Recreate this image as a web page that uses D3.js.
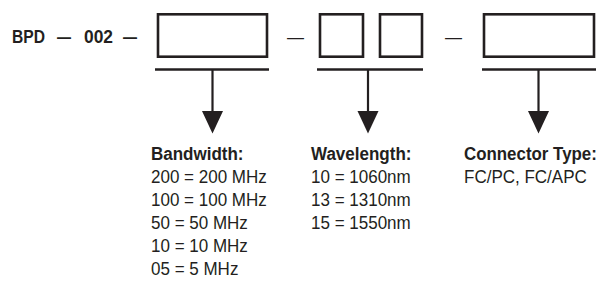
<!DOCTYPE html>
<html>
<head>
<meta charset="utf-8">
<script src="https://cdn.jsdelivr.net/npm/d3@7"></script>
<style>
  body { margin: 0; background: #fff; }
  svg text { font-family: "Liberation Sans", Arial, sans-serif; fill: #231f20; }
</style>
</head>
<body>
<div id="chart"></div>
<script>
// part number prefix and the separators
const prefixParts = ["BPD", "\u2014", "002", "\u2014"];
const separators = ["\u2014", "\u2014"];

// option fields: title and codes
const fieldTitles = ["Bandwidth:", "Wavelength:", "Connector Type:"];
const bandwidthCodes = ["200 = 200 MHz", "100 = 100 MHz", "50 = 50 MHz", "10 = 10 MHz", "05 = 5 MHz"];
const wavelengthCodes = ["10 = 1060nm", "13 = 1310nm", "15 = 1550nm"];
const connectorCodes = ["FC/PC, FC/APC"];
// number of code boxes per field
const boxCounts = [1, 2, 1];

const width = 602, height = 287;
const ink = "#231f20";

const svg = d3.select("#chart")
    .append("svg")
    .attr("width", width)
    .attr("height", height);

// layout of each field (box span, arrow, text column)
const fields = [
    { boxes: [[158, 109]], under: [155, 269], arrow: 212.5, textX: 151 },
    { boxes: [[320, 43], [380, 42]], under: [317, 423], arrow: 368, textX: 311 },
    { boxes: [[484, 110]], under: [482, 596], arrow: 538.5, textX: 464 }
];
const codeLists = [bandwidthCodes, wavelengthCodes, connectorCodes];

// vertical positions for text lines
const y = d3.scaleLinear().domain([0, 1]).range([159.5, 182.5]);

// place a text and squeeze it sideways (the original font is condensed)
function placeText(parent, str, x, yy, size, bold, k) {
    const t = parent.append("text")
        .attr("x", 0)
        .attr("y", 0)
        .style("font-size", size + "px")
        .style("font-weight", bold ? "bold" : "normal")
        .text(str);
    const w = t.node().getComputedTextLength();
    const s = Math.min(k, (width - x - 5) / w);
    t.attr("transform", `translate(${x},${yy}) scale(${s},1)`);
    return t;
}

// header "BPD — 002 —"
const prefixX = [12, 57, 84, 123];
const prefixW = [33, 14, 29, 14];
svg.selectAll(".prefix")
    .data(prefixParts)
    .enter()
    .append("text")
    .attr("class", "prefix")
    .attr("x", (d, i) => prefixX[i])
    .attr("y", 42.5)
    .attr("textLength", (d, i) => prefixW[i])
    .attr("lengthAdjust", "spacingAndGlyphs")
    .style("font-size", "18.5px")
    .style("font-weight", "bold")
    .text(d => d);

// dashes between the boxes
const sepX = [287, 445];
svg.selectAll(".sep")
    .data(separators)
    .enter()
    .append("text")
    .attr("class", "sep")
    .attr("x", (d, i) => sepX[i])
    .attr("y", 42.5)
    .attr("textLength", 17)
    .attr("lengthAdjust", "spacingAndGlyphs")
    .style("font-size", "18px")
    .text(d => d);

fields.forEach((f, i) => {
    const g = svg.append("g");

    // boxes
    g.selectAll("rect")
        .data(f.boxes.slice(0, boxCounts[i]))
        .enter()
        .append("rect")
        .attr("x", d => d[0])
        .attr("y", 14.3)
        .attr("width", d => d[1])
        .attr("height", 42.4)
        .attr("fill", "none")
        .attr("stroke", ink)
        .attr("stroke-width", 2.6);

    // underline
    g.append("line")
        .attr("x1", f.under[0]).attr("x2", f.under[1])
        .attr("y1", 69.5).attr("y2", 69.5)
        .attr("stroke", ink)
        .attr("stroke-width", 2.6);

    // arrow
    g.append("line")
        .attr("x1", f.arrow).attr("x2", f.arrow)
        .attr("y1", 69.5).attr("y2", 113)
        .attr("stroke", ink)
        .attr("stroke-width", 2.2);
    g.append("path")
        .attr("d", `M${f.arrow - 10.5},111 L${f.arrow + 10.5},111 L${f.arrow},133.5 Z`)
        .attr("fill", ink);

    // title and codes
    placeText(g, fieldTitles[i], f.textX, y(0), 18, true, 0.945);
    codeLists[i].forEach((c, j) => {
        placeText(g, c, f.textX, y(j + 1), 18, false, 0.945);
    });
});
</script>
</body>
</html>
